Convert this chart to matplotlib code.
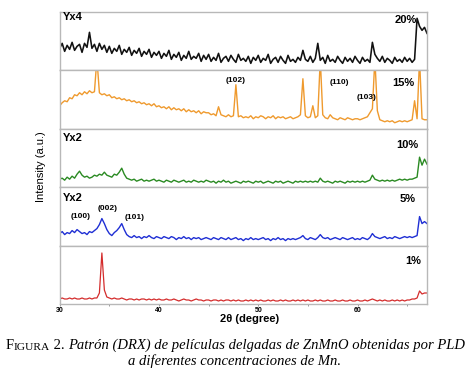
import numpy as np
import matplotlib.pyplot as plt


# XRD patterns of ZnMnO thin films (PLD) for several Mn concentrations

# 2-theta grid, 0.25 degree step from 30 to 67
two_theta = np.linspace(30, 67, 149)

# intensities (a.u.), one row per 5 degrees
mn_20 = [22, 27, 19, 25, 21, 28, 20, 24, 26, 18, 27, 23, 38, 22, 26, 19, 27, 21, 25, 18,
         24, 17, 22, 19, 25, 16, 21, 18, 23, 15, 20, 17, 22, 14, 19, 16, 21, 13, 18, 15,
         19, 12, 17, 14, 20, 11, 16, 13, 18, 10, 15, 12, 19, 11, 14, 12, 17, 9, 15, 11,
         16, 9, 13, 10, 17, 8, 12, 14, 9, 15, 11, 8, 16, 10, 12, 9, 14, 7, 13, 10,
         15, 8, 12, 10, 16, 7, 11, 13, 8, 14, 10, 7, 15, 9, 11, 8, 13, 10, 20, 11,
         9, 14, 8, 12, 27, 10, 13, 7, 15, 9, 11, 8, 14, 10, 7, 13, 9, 12, 8, 14,
         10, 7, 13, 9, 11, 8, 28, 16, 12, 9, 14, 8, 12, 10, 7, 13, 9, 11, 8, 13,
         9, 12, 8, 11, 52, 44, 40, 43, 37]

mn_15 = [23, 26, 28, 27, 31, 30, 34, 33, 36, 34, 37, 35, 38, 36, 37, 70, 36, 34, 35, 33,
         34, 31, 32, 30, 31, 29, 30, 28, 29, 27, 28, 26, 27, 25, 26, 24, 25, 23, 25, 22,
         23, 21, 22, 20, 22, 19, 21, 19, 20, 18, 20, 17, 19, 17, 18, 16, 18, 15, 17, 16,
         16, 14, 15, 13, 22, 14, 13, 12, 14, 12, 13, 44, 12, 13, 11, 12, 11, 13, 10, 12,
         11, 13, 12, 10, 12, 11, 13, 10, 12, 11, 12, 10, 11, 12, 10, 11, 12, 14, 50, 13,
         11, 12, 23, 11, 13, 70, 14, 11, 10, 14, 11, 10, 9, 11, 10, 9, 11, 10, 9, 10,
         10, 9, 10, 11, 12, 16, 20, 70, 18, 9, 8, 7, 8, 7, 8, 6, 7, 8, 7, 8,
         7, 8, 9, 28, 10, 70, 10, 9, 9]

mn_10 = [8, 9, 7, 10, 8, 11, 9, 13, 16, 12, 10, 11, 9, 10, 12, 11, 13, 12, 15, 12,
         11, 10, 13, 12, 15, 19, 13, 9, 8, 7, 8, 6, 7, 8, 6, 7, 6, 7, 8, 6,
         7, 6, 5, 7, 6, 5, 7, 6, 5, 6, 7, 5, 6, 5, 7, 6, 5, 6, 5, 7,
         6, 5, 6, 4, 6, 5, 7, 5, 6, 4, 5, 6, 5, 4, 6, 5, 6, 5, 4, 6,
         5, 6, 4, 5, 6, 5, 4, 6, 5, 6, 4, 5, 6, 5, 4, 6, 5, 6, 5, 6,
         5, 6, 5, 6, 5, 9, 6, 5, 6, 5, 4, 6, 5, 6, 5, 4, 6, 5, 6, 5,
         6, 5, 6, 5, 6, 7, 12, 8, 7, 6, 7, 6, 7, 6, 7, 6, 7, 8, 7, 8,
         7, 8, 8, 9, 10, 30, 22, 28, 23]

mn_5 = [12, 14, 11, 13, 12, 15, 13, 16, 14, 12, 13, 11, 14, 13, 15, 17, 21, 27, 22, 16,
        12, 10, 13, 15, 18, 22, 16, 11, 9, 8, 10, 8, 9, 7, 9, 8, 10, 8, 7, 9,
        8, 7, 9, 8, 7, 9, 8, 6, 8, 7, 9, 7, 8, 6, 8, 7, 8, 6, 7, 8,
        7, 6, 8, 7, 6, 8, 7, 6, 8, 6, 7, 8, 6, 7, 5, 7, 6, 8, 6, 7,
        6, 7, 8, 6, 7, 5, 7, 6, 8, 6, 7, 5, 7, 6, 7, 6, 7, 8, 10, 7,
        6, 8, 7, 6, 8, 11, 8, 7, 8, 6, 7, 8, 7, 6, 8, 7, 6, 7, 8, 6,
        7, 6, 8, 7, 6, 8, 12, 9, 8, 7, 8, 9, 7, 8, 7, 9, 8, 7, 8, 9,
        8, 9, 8, 9, 10, 29, 22, 24, 22]

mn_1 = [5, 6, 5, 5, 6, 5, 6, 5, 5, 6, 5, 5, 6, 5, 6, 6, 11, 51, 14, 7,
        6, 5, 6, 5, 5, 6, 5, 4, 5, 5, 4, 5, 4, 5, 5, 4, 5, 4, 5, 4,
        5, 4, 4, 5, 4, 4, 5, 4, 3, 4, 5, 4, 4, 3, 4, 5, 4, 4, 3, 4,
        4, 3, 4, 4, 3, 4, 3, 4, 4, 3, 4, 3, 4, 3, 3, 4, 3, 4, 3, 4,
        3, 4, 3, 3, 4, 3, 4, 3, 3, 4, 3, 4, 3, 3, 4, 3, 4, 3, 4, 3,
        4, 3, 3, 4, 3, 4, 3, 3, 4, 3, 3, 4, 3, 3, 4, 3, 3, 4, 3, 3,
        4, 3, 3, 4, 3, 4, 5, 4, 3, 4, 3, 4, 3, 3, 4, 3, 4, 3, 4, 3,
        4, 4, 5, 5, 6, 13, 10, 11, 11]

series = [mn_20, mn_15, mn_10, mn_5, mn_1]
concentrations = ['20%', '15%', '10%', '5%', '1%']
samples = ['Yx4', '', 'Yx2', 'Yx2', '']
colors = ['#111111', '#ef9a2e', '#2a8a22', '#1f2fd4', '#d42c2c']
widths = [1.15, 1.0, 1.0, 1.0, 0.9]
pct_pos = [(0.973, 0.86), (0.967, 0.78), (0.976, 0.73), (0.970, 0.80), (0.984, 0.73)]
sample_pos = [0.91, 0.85, 0.85, 0.82, 0.85]

# Miller indices: (panel, label, 2theta, y in axes fraction)
hkl_labels = [(1, '(102)', 47.7, 0.83), (1, '(110)', 58.2, 0.79), (1, '(103)', 60.9, 0.53),
              (3, '(100)', 32.1, 0.50), (3, '(002)', 34.8, 0.63), (3, '(101)', 37.5, 0.48)]


def xrd_patterns(save_path=None):
    plt.rcParams['font.family'] = ['Liberation Sans', 'DejaVu Sans']
    fig, axes = plt.subplots(5, 1, sharex=True, figsize=(4.7, 3.73), dpi=100,
                             gridspec_kw=dict(hspace=0))
    fig.subplots_adjust(left=0.127, right=0.9085, top=0.968, bottom=0.185)

    for i, ax in enumerate(axes):
        ax.plot(two_theta, series[i], color=colors[i], lw=widths[i])
        ax.set_ylim(0, 58.4)
        ax.set_xlim(30, 67)
        ax.set_yticks([])
        for spine in ax.spines.values():
            spine.set_color('#b8b8b8')
            spine.set_linewidth(1)
        ax.text(pct_pos[i][0], pct_pos[i][1], concentrations[i], transform=ax.transAxes,
                ha='right', va='center', fontsize=8, fontweight='bold')
        if samples[i]:
            ax.text(0.008, sample_pos[i], samples[i], transform=ax.transAxes,
                    ha='left', va='center', fontsize=8, fontweight='bold')
        ax.tick_params(axis='x', which='both', bottom=False)

    for panel, label, x, y in hkl_labels:
        axes[panel].text(x, y, label, transform=axes[panel].get_xaxis_transform(),
                         ha='center', va='center', fontsize=6, fontweight='bold')

    bottom = axes[-1]
    bottom.set_xticks([30, 40, 50, 60])
    bottom.set_xticks([35, 45, 55, 65], minor=True)
    bottom.tick_params(axis='x', which='both', bottom=True, direction='out',
                       length=1.5, width=0.6, color='#888888', labelsize=5, pad=0.5)
    for lab in bottom.get_xticklabels():
        lab.set_fontweight('bold')

    fig.text(250 / 470, 1 - 319.5 / 373, '2θ (degree)', ha='center', va='center',
             fontsize=8, fontweight='bold')
    fig.text(41.5 / 470, 1 - 167 / 373, 'Intensity (a.u.)', rotation=90,
             ha='center', va='center', fontsize=8)

    # caption, small caps "Figura" built from two sizes
    cap = fig.add_axes([0, 0, 1, 0.12])
    cap.axis('off')
    serif = 'Liberation Serif'
    first = cap.text(0.02, 0.47, 'F', transform=cap.transAxes, va='bottom',
                     family=serif, fontsize=10.5)
    t = cap.annotate('IGURA', xy=(1, 0), xycoords=first, va='bottom',
                     family=serif, fontsize=8.2)
    t = cap.annotate(' 2. ', xy=(1, 0), xycoords=t, va='bottom', family=serif, fontsize=10.5)
    t = cap.annotate('Patrón (DRX) de películas delgadas de ZnMnO obtenidas por PLD',
                     xy=(1, 0), xycoords=t, va='bottom', family=serif,
                     fontsize=10.5, style='italic')
    renderer = fig.canvas.get_renderer()
    x0 = first.get_window_extent(renderer).x0
    x1 = t.get_window_extent(renderer).x1
    width = (x1 - x0) / fig.bbox.width
    first.set_x(0.5 - width / 2)
    cap.text(0.5, 0.26, 'a diferentes concentraciones de Mn.', transform=cap.transAxes,
             ha='center', va='center', family=serif, fontsize=10.5, style='italic')

    if save_path:
        plt.savefig(save_path, dpi=100)
    else:
        plt.show()
    plt.close()


if __name__ == '__main__':
    xrd_patterns('out.png')
